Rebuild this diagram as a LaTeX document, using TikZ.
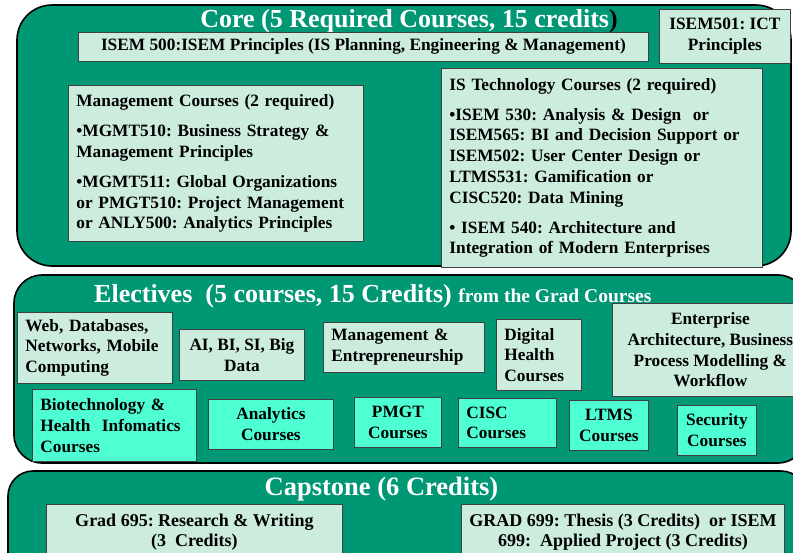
\documentclass[tikz,border=0pt]{standalone}
\usepackage{fontspec}
\setmainfont{Liberation Serif}
\usetikzlibrary{positioning}
\definecolor{bandgreen}{RGB}{0,152,116}
\definecolor{palemint}{RGB}{204,236,221}
\definecolor{aquamint}{RGB}{77,255,210}
\frenchspacing

\begin{document}
\begin{tikzpicture}[x=1pt,y=-1pt,
	band/.style={draw=black,line width=1.6pt,fill=bandgreen},
	heading/.style={text=white,inner sep=0pt,font=\bfseries\fontsize{26}{28}\selectfont},
	course/.style={draw=black!75,line width=0.8pt,anchor=north west,inner xsep=8pt,inner ysep=0pt,
		font=\bfseries\fontsize{17.3}{20.7}\selectfont},
	pale/.style={course,fill=palemint},
	aqua/.style={course,fill=aquamint},
	leftbox/.style={align=left,text width=#1},
	midbox/.style={align=center,minimum width=#1}]
	\useasboundingbox (0,0) rectangle (793,552);
	\clip (0,0) rectangle (793,552);
	% Core
	\draw [band,rounded corners=35pt] (17,5) rectangle (791,266);
	\node [heading,anchor=base] (coretitle) at (409,27) {Core (5 Required Courses, 15 credits\textcolor{black}{)}};
	\node [pale,midbox=570pt,minimum height=29pt] (isem500) at (78,32) {ISEM 500:ISEM Principles (IS Planning, Engineering \& Management)};
	\node [pale,midbox=131pt,minimum height=54pt] (isem501) at (659,9) {ISEM501: ICT\\Principles};
	\node [pale,leftbox=279pt,minimum height=156pt] (mgmt) at (68,85) {Management Courses (2 required)\\[9.5pt]
		•MGMT510: Business Strategy \&\\Management Principles\\[9.5pt]
		•MGMT511: Global Organizations\\or PMGT510: Project Management\\or ANLY500: Analytics Principles};
	\node [pale,leftbox=305pt,minimum height=199pt] (istech) at (441,68) {IS Technology Courses (2 required)\\[9.5pt]
		•ISEM 530: Analysis \& Design\ \ or\\ISEM565: BI and Decision Support or\\ISEM502: User Center Design or\\LTMS531: Gamification or\\CISC520: Data Mining\\[9.5pt]
		• ISEM 540: Architecture and\\Integration of Modern Enterprises};
	% Electives
	\draw [band,rounded corners=28pt] (14,275) rectangle (806,463);
	\node [heading,anchor=base west] (electtitle) at (94,302) {Electives\ \ (5 courses, 15 Credits) {\fontsize{19.5}{21}\selectfont from the Grad Courses}};
	\node [pale,leftbox=139pt,minimum height=71pt] (web) at (17,312) {Web, Databases,\\Networks, Mobile\\Computing};
	\node [pale,midbox=125pt,minimum height=51pt] (aibi) at (179,329) {AI, BI, SI, Big\\Data};
	\node [pale,leftbox=145pt,minimum height=50pt] (mgmtent) at (323,322) {Management \&\\Entrepreneurship};
	\node [pale,leftbox=69pt,minimum height=71pt] (digital) at (496,319) {Digital\\Health\\Courses};
	\node [pale,midbox=196pt,minimum height=93pt] (enterprise) at (612,303) {Enterprise\\Architecture, Business\\Process Modelling \&\\Workflow};
	\node [aqua,leftbox=148pt,minimum height=72pt] (biotech) at (32,389) {Biotechnology \&\\Health\ \ Infomatics\\Courses};
	\node [aqua,midbox=125pt,minimum height=50pt] (analytics) at (208,399) {Analytics\\Courses};
	\node [aqua,midbox=87pt,minimum height=50pt] (pmgt) at (354,397) {PMGT\\Courses};
	\node [aqua,leftbox=82pt,minimum height=49pt] (cisc) at (458,398) {CISC\\Courses};
	\node [aqua,midbox=79pt,minimum height=50pt] (ltms) at (569,400) {LTMS\\Courses};
	\node [aqua,midbox=79pt,minimum height=50pt] (security) at (677,405) {Security\\Courses};
	% Capstone
	\draw [band,rounded corners=25pt] (8,471) rectangle (806,600);
	\node [heading,anchor=base,font=\bfseries\fontsize{26.5}{28}\selectfont] (captitle) at (381.5,495) {Capstone (6 Credits)};
	\node [pale,midbox=296pt,minimum height=56pt,font=\bfseries\fontsize{18}{20.5}\selectfont] (grad695) at (46,504) {Grad 695: Research \& Writing\\(3\ \ Credits)};
	\node [pale,midbox=323pt,minimum height=56pt,font=\bfseries\fontsize{18}{20.5}\selectfont] (grad699) at (461,504) {GRAD 699: Thesis (3 Credits)\ \ or ISEM\\699:\ \ Applied Project (3 Credits)};
\end{tikzpicture}
\end{document}
